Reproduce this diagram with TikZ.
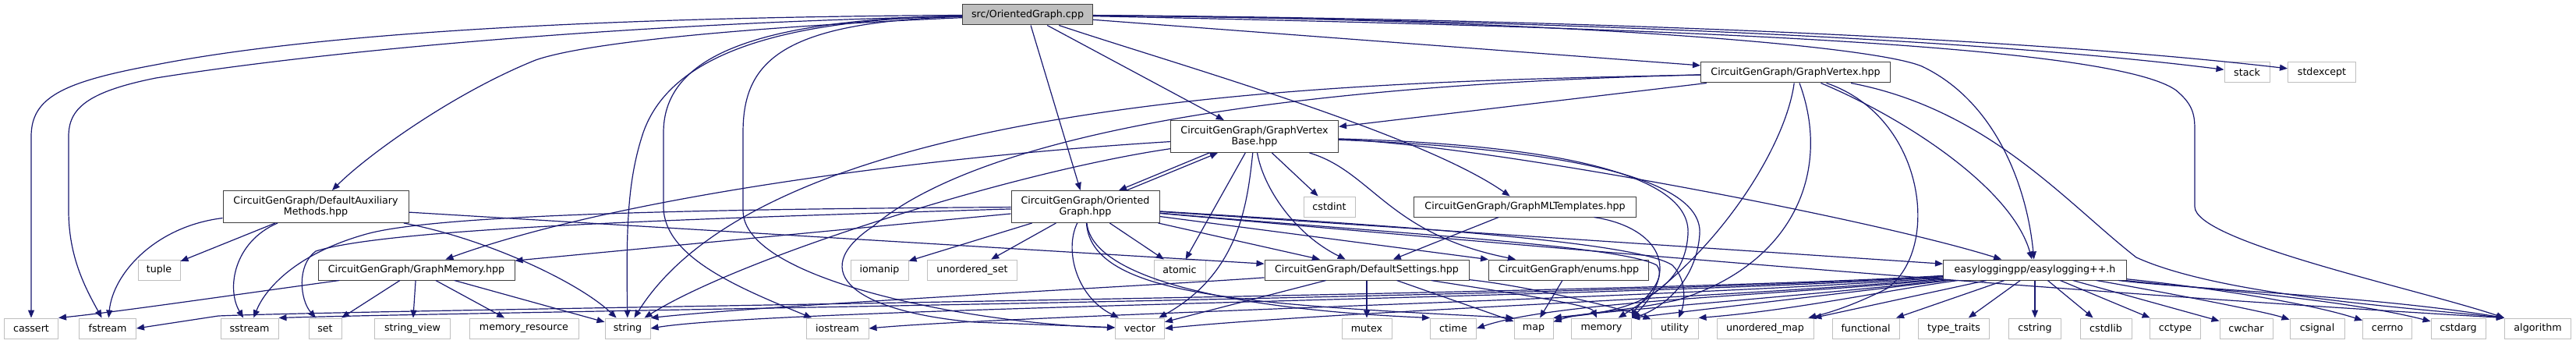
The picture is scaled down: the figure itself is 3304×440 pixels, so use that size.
\documentclass[tikz,border=0pt]{standalone}
\usepackage{fontspec}
\setmainfont{DejaVu Sans}
\usetikzlibrary{arrows.meta,calc}

\definecolor{incblue}{HTML}{191970}
\definecolor{sysgray}{HTML}{BFBFBF}
\definecolor{hdrgray}{HTML}{404040}

\begin{document}
\begin{tikzpicture}[x=0.75pt, y=0.75pt,
    every node/.style={font=\fontsize{9.5}{10.5}\selectfont, inner sep=0pt, align=center},
    sysinc/.style={draw=sysgray, fill=white, line width=0.75pt, minimum height=19.5pt, minimum width=#1*0.75pt},
    hdr/.style={draw=hdrgray, fill=white, line width=0.75pt, minimum height=19.5pt, minimum width=#1*0.75pt},
    hdrtwo/.style={hdr=#1, minimum height=30.75pt},
    srcfile/.style={hdr=#1, fill=sysgray},
    inc/.style={draw=incblue, line width=0.9pt, -{Triangle[length=7.5pt,width=6pt]}}]
    \useasboundingbox (0,0) rectangle (3304,440);

    % source file
    \node[srcfile=167] (cpp) at (1318,421) {src/OrientedGraph.cpp};

    % project headers
    \node[hdr=243] (vertex) at (2303,347) {CircuitGenGraph/GraphVertex.hpp};
    \node[hdrtwo=215] (vbase) at (1609,265) {CircuitGenGraph/GraphVertex\\Base.hpp};
    \node[hdrtwo=238] (auxm) at (405,175) {CircuitGenGraph/DefaultAuxiliary\\Methods.hpp};
    \node[hdrtwo=190] (ograph) at (1392,175) {CircuitGenGraph/Oriented\\Graph.hpp};
    \node[hdr=285] (mltpl) at (1956,175) {CircuitGenGraph/GraphMLTemplates.hpp};
    \node[hdr=252] (gmem) at (534,94) {CircuitGenGraph/GraphMemory.hpp};
    \node[hdr=262] (dset) at (1753,94) {CircuitGenGraph/DefaultSettings.hpp};
    \node[hdr=205] (enums) at (2012,94) {CircuitGenGraph/enums.hpp};
    \node[hdr=235] (elog) at (2610,94) {easyloggingpp/easylogging++.h};

    % system headers, upper rows
    \node[sysinc=58] (stack) at (2882,347) {stack};
    \node[sysinc=87] (stdexcept) at (2978,347) {stdexcept};
    \node[sysinc=66] (cstdint) at (1705,175) {cstdint};
    \node[sysinc=54] (tuple) at (204,94) {tuple};
    \node[sysinc=74] (iomanip) at (1128,94) {iomanip};
    \node[sysinc=115] (uset) at (1247,94) {unordered\_set};
    \node[sysinc=66] (atomic) at (1513,94) {atomic};

    % system headers, bottom row
    \node[sysinc=69] (cassert) at (40,19) {cassert};
    \node[sysinc=73] (fstream) at (138,19) {fstream};
    \node[sysinc=74] (sstream) at (320,19) {sstream};
    \node[sysinc=42] (set) at (417,19) {set};
    \node[sysinc=97] (stringview) at (529,19) {string\_view};
    \node[sysinc=140] (memres) at (672,19) {memory\_resource};
    \node[sysinc=58] (string) at (805,19) {string};
    \node[sysinc=80] (iostream) at (1074,19) {iostream};
    \node[sysinc=63] (vector) at (1462,19) {vector};
    \node[sysinc=64] (mutex) at (1753,19) {mutex};
    \node[sysinc=59] (ctime) at (1864,19) {ctime};
    \node[sysinc=50] (map) at (1967,19) {map};
    \node[sysinc=77] (memory) at (2054,19) {memory};
    \node[sysinc=60] (utility) at (2148,19) {utility};
    \node[sysinc=124] (umap) at (2264,19) {unordered\_map};
    \node[sysinc=86] (functional) at (2393,19) {functional};
    \node[sysinc=91] (typetraits) at (2506,19) {type\_traits};
    \node[sysinc=67] (cstring) at (2610,19) {cstring};
    \node[sysinc=66] (cstdlib) at (2701,19) {cstdlib};
    \node[sysinc=65] (cctype) at (2790,19) {cctype};
    \node[sysinc=68] (cwchar) at (2881,19) {cwchar};
    \node[sysinc=70] (csignal) at (2972,19) {csignal};
    \node[sysinc=63] (cerrno) at (3062,19) {cerrno};
    \node[sysinc=70] (cstdarg) at (3153,19) {cstdarg};
    \node[sysinc=85] (algorithm) at (3255,19) {algorithm};

    % includes of the source file
    \draw[inc] (cpp) .. controls (800,418) and (420,400) .. (200,357) .. controls (80,335) and (40,315) .. (40,265) -- (cassert);
    \draw[inc] (cpp) .. controls (800,410) and (420,375) .. (200,340) .. controls (110,322) and (88,300) .. (88,265) -- (88,170) .. controls (88,110) and (110,70) .. (fstream);
    \draw[inc] (cpp) .. controls (950,405) and (750,385) .. (687,363) .. controls (580,320) and (470,240) .. (auxm);
    \draw[inc] (cpp) .. controls (1000,415) and (860,370) .. (825,270) .. controls (805,210) and (803,150) .. (string);
    \draw[inc] (cpp) .. controls (950,415) and (851,360) .. (851,270) -- (851,175) .. controls (851,110) and (950,70) .. (iostream);
    \draw[inc] (cpp) .. controls (1000,412) and (953,360) .. (953,270) -- (953,170) .. controls (953,80) and (1250,25) .. (vector);
    \draw[inc] (cpp) -- (ograph);
    \draw[inc] (cpp) -- (vbase);
    \draw[inc] (cpp) .. controls (1500,360) and (1820,270) .. (mltpl);
    \draw[inc] (cpp) -- (vertex);
    \draw[inc] (cpp) .. controls (1900,415) and (2500,395) .. (stack);
    \draw[inc] (cpp) .. controls (1900,417) and (2550,397) .. (stdexcept);
    \draw[inc] (cpp) .. controls (2000,415) and (2400,382) .. (2465,355) .. controls (2560,310) and (2600,200) .. (elog);
    \draw[inc] (cpp) .. controls (2100,405) and (2700,385) .. (2790,325) .. controls (2815,305) and (2815,290) .. (2815,270) -- (2815,175) .. controls (2815,130) and (3100,70) .. (algorithm.north west);

    % GraphVertex.hpp
    \draw[inc] (vertex) -- (vbase);
    \draw[inc] (vertex) .. controls (1800,335) and (1000,330) .. (string);
    \draw[inc] (vertex) .. controls (1600,330) and (1250,260) .. (1120,150) .. controls (1030,90) and (1100,40) .. (1250,27) -- (vector);
    \draw[inc] (vertex) .. controls (2440,290) and (2580,200) .. (elog);
    \draw[inc] (vertex) .. controls (2470,290) and (2490,120) .. (2420,70) .. controls (2380,50) and (2350,40) .. (umap);
    \draw[inc] (vertex) .. controls (2290,250) and (2200,110) .. (memory);
    \draw[inc] (vertex) .. controls (2350,220) and (2300,100) .. (2150,55) .. controls (2080,40) and (2030,40) .. (map);
    \draw[inc] (vertex) .. controls (2550,300) and (2650,180) .. (2740,110) .. controls (2850,60) and (3100,45) .. (algorithm.north west);

    % GraphVertexBase.hpp
    \draw[inc] ($(vbase.south)+(-58,0)$) -- ($(ograph.north)+(43,0)$);
    \draw[inc] (vbase) .. controls (1200,240) and (800,190) .. (gmem);
    \draw[inc] (vbase) .. controls (1300,220) and (950,110) .. (string);
    \draw[inc] (vbase) .. controls (1600,180) and (1590,90) .. (vector);
    \draw[inc] (vbase) -- (atomic);
    \draw[inc] (vbase) -- (cstdint);
    \draw[inc] (vbase) .. controls (1620,200) and (1660,140) .. (dset);
    \draw[inc] (vbase) .. controls (1760,220) and (1780,140) .. (enums);
    \draw[inc] (vbase) .. controls (1900,255) and (2400,160) .. (elog);
    \draw[inc] (vbase) .. controls (1980,255) and (2170,220) .. (2165,140) .. controls (2160,50) and (2060,38) .. (map.north east);
    \draw[inc] (vbase) .. controls (1990,250) and (2185,215) .. (2180,140) .. controls (2175,70) and (2120,40) .. (memory.north east);

    % OrientedGraph.hpp
    \draw[inc] ($(ograph.north)+(53,0)$) -- ($(vbase.south)+(-47,0)$);
    \draw[inc] (ograph) .. controls (900,172) and (560,165) .. (470,140) .. controls (380,115) and (340,70) .. (sstream);
    \draw[inc] (ograph) .. controls (900,160) and (500,148) .. (405,118) .. controls (380,100) and (385,55) .. (set);
    \draw[inc] (ograph) -- (gmem);
    \draw[inc] (ograph) -- (iomanip);
    \draw[inc] (ograph) -- (uset);
    \draw[inc] (ograph) .. controls (1365,120) and (1380,60) .. (vector);
    \draw[inc] (ograph) .. controls (1400,90) and (1550,45) .. (ctime.north west);
    \draw[inc] (ograph) .. controls (1400,60) and (1600,50) .. (map.north west);
    \draw[inc] (ograph) -- (atomic);
    \draw[inc] (ograph) -- (dset);
    \draw[inc] (ograph) -- (enums);
    \draw[inc] (ograph) -- (elog);
    \draw[inc] (ograph) .. controls (1800,140) and (2080,125) .. (2125,100) .. controls (2140,80) and (2100,50) .. (memory.north east);
    \draw[inc] (ograph) .. controls (1800,150) and (2100,130) .. (2145,100) .. controls (2165,80) and (2160,50) .. (utility);
    \draw[inc] (ograph) .. controls (1900,130) and (2600,68) .. (algorithm.north west);

    % DefaultAuxiliaryMethods.hpp
    \draw[inc] (auxm) .. controls (200,150) and (145,90) .. (fstream);
    \draw[inc] (auxm) -- (tuple);
    \draw[inc] (auxm) .. controls (300,130) and (290,70) .. (sstream);
    \draw[inc] (auxm) .. controls (620,135) and (740,80) .. (string);
    \draw[inc] (auxm) -- (dset);

    % GraphMemory.hpp
    \draw[inc] (gmem) .. controls (300,62) and (150,40) .. (cassert.north east);
    \draw[inc] (gmem) -- (set);
    \draw[inc] (gmem) -- (stringview);
    \draw[inc] (gmem) -- (memres);
    \draw[inc] (gmem) -- (string);

    % DefaultSettings.hpp, GraphMLTemplates.hpp, enums.hpp
    \draw[inc] (dset) .. controls (1500,75) and (1000,50) .. (string.north east);
    \draw[inc] (dset) -- (vector);
    \draw[inc] (dset) -- (mutex);
    \draw[inc] (dset) -- (map);
    \draw[inc] (dset) .. controls (1900,70) and (2040,50) .. (memory);
    \draw[inc] (dset) .. controls (1950,75) and (2080,45) .. (utility);
    \draw[inc] (mltpl) -- (dset);
    \draw[inc] (mltpl) .. controls (2120,150) and (2160,100) .. (memory.north east);
    \draw[inc] (enums) -- (map);

    % easylogging++.h
    \draw[inc] (elog) .. controls (2100,62) and (500,44) .. (280,35) -- (fstream.east);
    \draw[inc] (elog) .. controls (2100,60) and (600,40) .. (sstream.north east);
    \draw[inc] (elog) .. controls (2150,60) and (1000,46) .. (string.east);
    \draw[inc] (elog) .. controls (2200,60) and (1300,36) .. (iostream.east);
    \draw[inc] (elog) .. controls (2250,60) and (1700,40) .. (vector.east);
    \draw[inc] (elog) .. controls (2300,62) and (2000,55) .. (ctime.east);
    \draw[inc] (elog) .. controls (2350,64) and (2100,45) .. (map.north east);
    \draw[inc] (elog) .. controls (2380,66) and (2200,45) .. (memory.north east);
    \draw[inc] (elog) .. controls (2420,68) and (2300,42) .. (utility.north east);
    \draw[inc] (elog) -- (umap);
    \draw[inc] (elog) -- (functional);
    \draw[inc] (elog) -- (typetraits);
    \draw[inc] (elog) -- (cstring);
    \draw[inc] (elog) -- (cstdlib);
    \draw[inc] (elog) -- (cctype);
    \draw[inc] (elog) -- (cwchar);
    \draw[inc] (elog) .. controls (2750,70) and (2900,42) .. (csignal);
    \draw[inc] (elog) .. controls (2800,75) and (2950,55) .. (cerrno);
    \draw[inc] (elog) .. controls (2800,72) and (3000,58) .. (cstdarg);
    \draw[inc] (elog) .. controls (2800,70) and (3050,60) .. (algorithm.north west);
\end{tikzpicture}
\end{document}
